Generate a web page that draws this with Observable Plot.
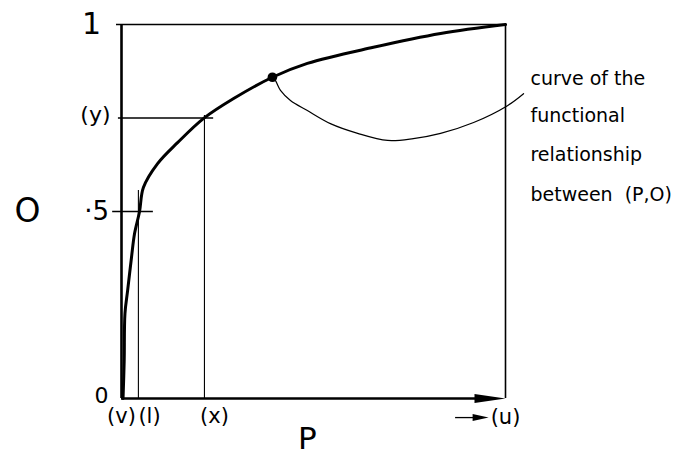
<!DOCTYPE html>
<html>
<head>
<meta charset="utf-8">
<script src="https://cdn.jsdelivr.net/npm/d3@7"></script>
<script src="https://cdn.jsdelivr.net/npm/@observablehq/plot@0.6"></script>
<style>
  html, body { margin: 0; padding: 0; background: white; }
</style>
</head>
<body>
<div id="chart"></div>
<script>
// Main curve: functional relationship between P (x) and O (y)
const curveP = [0.004, 0.007, 0.009, 0.016, 0.026, 0.034, 0.047, 0.057, 0.094, 0.146, 0.214, 0.292, 0.393, 0.484, 0.656, 0.831, 1];
const curveO = [0.0, 0.1, 0.227, 0.289, 0.377, 0.441, 0.5, 0.564, 0.628, 0.684, 0.749, 0.802, 0.859, 0.896, 0.939, 0.976, 1];

// Highlighted point on the curve
const pointP = 0.393, pointO = 0.859;

// Leader line from the point to the annotation
const leaderP = [0.393, 0.401, 0.414, 0.44, 0.484, 0.544, 0.615, 0.693, 0.76, 0.831, 0.917, 1.005, 1.047];
const leaderO = [0.859, 0.85, 0.824, 0.797, 0.77, 0.735, 0.709, 0.69, 0.695, 0.709, 0.738, 0.783, 0.815];

// Reference values
const refL = 0.044, refX = 0.216, refY = 0.75, half = 0.5;

// Tick labels
const yLabels = [
  {text: "1", p: -0.078, o: 1.0, size: 30},
  {text: "(y)", p: -0.068, o: 0.757, size: 22},
  {text: "·5", p: -0.065, o: 0.5, size: 26},
  {text: "0", p: -0.052, o: 0.008, size: 22}
];
const xLabels = [
  {text: "(v)", p: 0.0, o: -0.047},
  {text: "(l)", p: 0.073, o: -0.047},
  {text: "(x)", p: 0.242, o: -0.047},
  {text: "(u)", p: 1.0, o: -0.051}
];
const axisTitles = [
  {text: "O", p: -0.245, o: 0.5, anchor: "middle", size: 33},
  {text: "P", p: 0.484, o: -0.134, anchor: "bottom", size: 31}
];
const noteLines = ["curve of the", "functional", "relationship", "between  (P,O)"];
const noteO = [0.837, 0.738, 0.636, 0.529];
const noteP = 1.065;

const curve = curveP.map((p, i) => ({p, o: curveO[i]}));
const leader = leaderP.map((p, i) => ({p, o: leaderO[i]}));
const notes = noteLines.map((t, i) => ({text: t, p: noteP, o: noteO[i]}));

const bigHead = {draw(ctx) { ctx.moveTo(0, 0); ctx.lineTo(-31, -4.5); ctx.lineTo(-31, 4.5); ctx.closePath(); }};
const smallHead = {draw(ctx) { ctx.moveTo(0, 0); ctx.lineTo(-16, -3.5); ctx.lineTo(-16, 3.5); ctx.closePath(); }};

const font = "DejaVu Sans";

const chart = Plot.plot({
  width: 684,
  height: 457,
  margin: 0,
  x: {domain: [0, 1], range: [121, 505], axis: null},
  y: {domain: [0, 1], range: [398, 24], axis: null},
  style: {background: "white", fontFamily: font, color: "black"},
  marks: [
    // frame top and right
    Plot.ruleY([1], {x1: -0.013, x2: 1, stroke: "black", strokeWidth: 1.6}),
    Plot.ruleX([1], {y1: 0, y2: 1, stroke: "black", strokeWidth: 1.6}),
    // reference lines
    Plot.ruleX([refL], {y1: 0, y2: 0.556, stroke: "black", strokeWidth: 1.1}),
    Plot.ruleX([refX], {y1: 0, y2: 0.757, stroke: "black", strokeWidth: 1.1}),
    Plot.ruleY([refY], {x1: -0.008, x2: 0.24, stroke: "black", strokeWidth: 1.3}),
    Plot.ruleY([half], {x1: -0.023, x2: 0.083, stroke: "black", strokeWidth: 1.3}),
    // axes (thick)
    Plot.ruleX([0], {y1: 0, y2: 1, stroke: "black", strokeWidth: 2.6}),
    Plot.ruleY([0], {x1: 0, x2: 0.97, stroke: "black", strokeWidth: 2.6}),
    Plot.dot([{p: 1, o: 0}], {x: "p", y: "o", symbol: bigHead, fill: "black", stroke: null}),
    // small arrow before (u)
    Plot.ruleY([-0.051], {x1: 0.87, x2: 0.93, stroke: "black", strokeWidth: 1.3}),
    Plot.dot([{p: 0.956, o: -0.051}], {x: "p", y: "o", symbol: smallHead, fill: "black", stroke: null}),
    // leader curve
    Plot.line(leader, {x: "p", y: "o", curve: "catmull-rom", stroke: "black", strokeWidth: 1.2}),
    // main curve
    Plot.line(curve, {x: "p", y: "o", curve: "catmull-rom", stroke: "black", strokeWidth: 3, strokeLinecap: "round", strokeLinejoin: "round"}),
    Plot.dot([{p: pointP, o: pointO}], {x: "p", y: "o", r: 4.8, fill: "black", stroke: null}),
    // labels
    ...yLabels.map(d => Plot.text([d], {x: "p", y: "o", text: "text", fontSize: d.size, textAnchor: "middle", lineAnchor: "middle", fill: "black"})),
    Plot.text(xLabels, {x: "p", y: "o", text: "text", fontSize: 21, textAnchor: "middle", lineAnchor: "middle", fill: "black"}),
    ...axisTitles.map(d => Plot.text([d], {x: "p", y: "o", text: "text", fontSize: d.size, textAnchor: "middle", lineAnchor: d.anchor, fill: "black"})),
    Plot.text(notes, {x: "p", y: "o", text: "text", fontSize: 19, textAnchor: "start", lineAnchor: "bottom", fill: "black"})
  ]
});
document.getElementById("chart").appendChild(chart);
</script>
</body>
</html>
